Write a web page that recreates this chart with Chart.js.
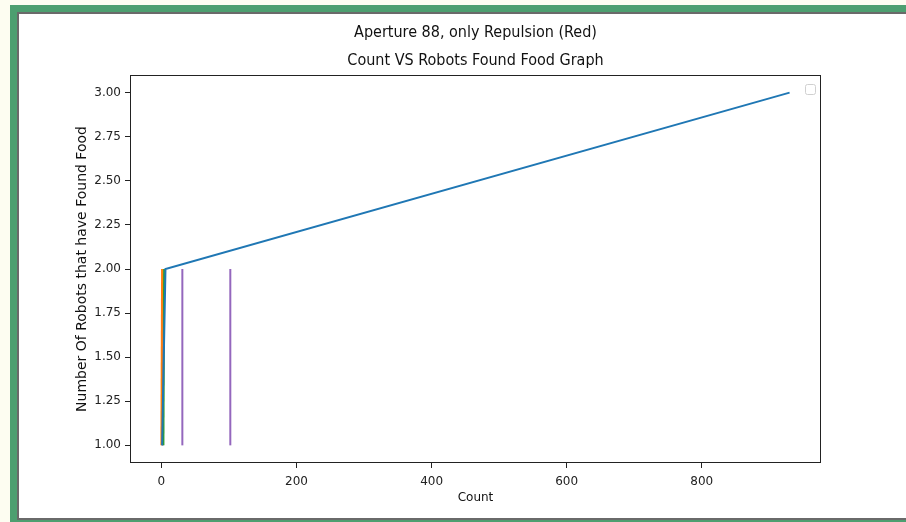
<!DOCTYPE html>
<html>
<head>
<meta charset="utf-8">
<script src="https://cdn.jsdelivr.net/npm/chart.js@4"></script>
<style>
  html, body { margin: 0; padding: 0; width: 906px; height: 522px; overflow: hidden; background: #fdfdf1; }
  .frame { position: absolute; left: 10px; top: 5px; width: 900px; height: 517px; background: #4d9f70; }
  .inner { position: absolute; left: 7px; top: 7px; width: 900px; height: 504px; background: #ffffff;
           border-top: 2px solid #6a6a6a; border-left: 2px solid #6a6a6a; border-bottom: 2px solid #6a6a6a; }
  #chart { position: absolute; left: 0; top: 0; }
</style>
</head>
<body>
<div class="frame"><div class="inner"></div></div>
<canvas id="chart" width="906" height="522"></canvas>
<script>
  const titleLines = ["Aperture 88, only Repulsion (Red)", "Count VS Robots Found Food Graph"];
  const xTicks = [0, 200, 400, 600, 800];
  const yTicks = [1.0, 1.25, 1.5, 1.75, 2.0, 2.25, 2.5, 2.75, 3.0];

  // each run: counts at which the number of robots with food went up
  const blueCounts = [1, 6, 930];
  const blueFound = [1, 2, 3];
  const orangeCounts = [0, 1];
  const orangeFound = [1, 2];
  const greenCounts = [3, 4];
  const greenFound = [1, 2];
  const purpleCountsA = [2, 2];
  const purpleCountsB = [31, 31];
  const purpleCountsC = [102, 102];
  const purpleFound = [1, 2];

  function toPoints(xs, ys) {
    return xs.map((x, i) => ({ x: x, y: ys[i] }));
  }

  function series(xs, ys, color) {
    return {
      data: toPoints(xs, ys),
      borderColor: color,
      backgroundColor: color,
      borderWidth: 2,
      pointRadius: 0,
      fill: false,
      tension: 0
    };
  }

  // axes box + empty legend frame, like matplotlib draws them
  const boxPlugin = {
    id: "box",
    afterDraw(chart) {
      const { ctx, chartArea } = chart;
      ctx.save();
      ctx.strokeStyle = "#222";
      ctx.lineWidth = 1;
      ctx.strokeRect(chartArea.left + 0.5, chartArea.top + 0.5,
        chartArea.right - chartArea.left - 1, chartArea.bottom - chartArea.top - 1);
      const lx = chartArea.right - 16, ly = chartArea.top + 9;
      ctx.strokeStyle = "#d0d0d0";
      ctx.beginPath();
      ctx.roundRect(lx + 0.5, ly + 0.5, 10, 10, 2);
      ctx.stroke();
      ctx.restore();
    }
  };

  const tickFont = { family: "'DejaVu Sans', sans-serif", size: 12 };

  new Chart(document.getElementById("chart"), {
    type: "line",
    data: {
      datasets: [
        series(blueCounts, blueFound, "#1f77b4"),
        series(orangeCounts, orangeFound, "#ff7f0e"),
        series(greenCounts, greenFound, "#2ca02c"),
        series(purpleCountsA, purpleFound, "#9467bd"),
        series(purpleCountsB, purpleFound, "#9467bd"),
        series(purpleCountsC, purpleFound, "#9467bd")
      ]
    },
    options: {
      responsive: false,
      animation: false,
      layout: { padding: { left: 74, right: 85, top: 0, bottom: 17 } },
      plugins: {
        legend: { display: false },
        tooltip: { enabled: false },
        title: {
          display: true,
          fullSize: false,
          text: titleLines,
          color: "#111",
          font: { family: "'Liberation Sans Narrow', 'DejaVu Sans Condensed', sans-serif", size: 16, weight: "normal", lineHeight: 1.75 },
          padding: { top: 19, bottom: 0 }
        }
      },
      scales: {
        x: {
          type: "linear",
          min: -46.5,
          max: 976.5,
          afterBuildTicks: (scale) => { scale.ticks = xTicks.map((v) => ({ value: v })); },
          afterFit: (scale) => { scale.height = 42; },
          grid: { drawOnChartArea: false, drawTicks: true, tickLength: 5, color: "#222" },
          border: { display: false },
          ticks: { color: "#222", font: tickFont, padding: 7, maxRotation: 0 },
          title: { display: true, text: "Count", color: "#111", font: tickFont, padding: 0 }
        },
        y: {
          type: "linear",
          min: 0.9,
          max: 3.1,
          afterBuildTicks: (scale) => { scale.ticks = yTicks.map((v) => ({ value: v })); },
          afterFit: (scale) => { scale.width = 56; },
          grid: { drawOnChartArea: false, drawTicks: true, tickLength: 5, color: "#222" },
          border: { display: false },
          ticks: { color: "#222", font: tickFont, padding: 4, callback: (v) => Number(v).toFixed(2) },
          title: { display: true, text: "Number Of Robots that have Found Food", color: "#111",
                   font: { family: "'DejaVu Sans', sans-serif", size: 14 }, padding: 0 }
        }
      }
    },
    plugins: [boxPlugin]
  });
</script>
</body>
</html>
